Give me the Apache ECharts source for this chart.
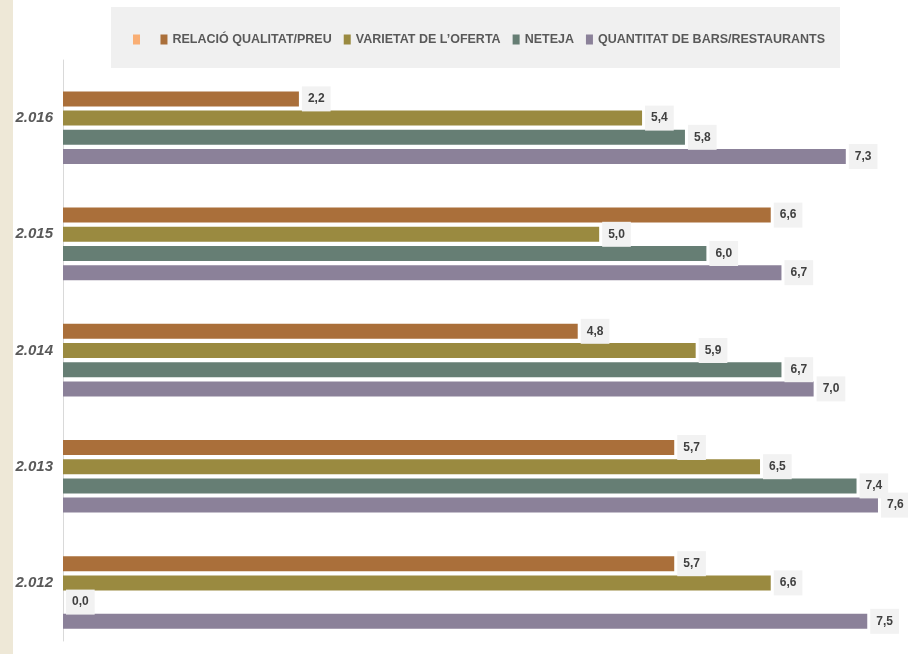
<!DOCTYPE html>
<html>
<head>
<meta charset="utf-8">
<script src="https://cdn.jsdelivr.net/npm/echarts@6/dist/echarts.min.js"></script>
<style>
  html, body { margin: 0; padding: 0; background: #ffffff; }
  #chart { width: 908px; height: 654px; }
</style>
</head>
<body>
<div id="chart"></div>
<script>
// Survey years (top to bottom)
const years = ['2.016', '2.015', '2.014', '2.013', '2.012'];

// Series names
const seriesNames = [' ', 'RELACIÓ QUALITAT/PREU', 'VARIETAT DE L\u2019OFERTA', 'NETEJA', 'QUANTITAT DE BARS/RESTAURANTS'];

// Scores per year (same order as years)
const blankValues     = [null, null, null, null, null];
const relacioValues   = [2.2, 6.6, 4.8, 5.7, 5.7];
const varietatValues  = [5.4, 5.0, 5.9, 6.5, 6.6];
const netejaValues    = [5.8, 6.0, 6.7, 7.4, 0.0];
const quantitatValues = [7.3, 6.7, 7.0, 7.6, 7.5];

const seriesColors = ['#F9AE74', '#AA6F3A', '#9A8A40', '#667E74', '#8B8199'];
const seriesValues = [blankValues, relacioValues, varietatValues, netejaValues, quantitatValues];

const FONT = '"Liberation Sans Narrow", "Arial Narrow", "Liberation Sans", Arial, sans-serif';

const chart = echarts.init(document.getElementById('chart'), null, { renderer: 'canvas' });

const series = seriesNames.map((name, i) => ({
  name: name,
  type: 'bar',
  data: seriesValues[i],
  barWidth: 15,
  barGap: '28%',
  itemStyle: { color: seriesColors[i] },
  label: {
    show: i > 0,
    position: 'right',
    distance: 3,
    formatter: p => p.value.toFixed(1).replace('.', ','),
    color: '#404040',
    fontFamily: FONT,
    fontWeight: 'bold',
    fontSize: 12,
    lineHeight: 13,
    backgroundColor: '#F2F2F2',
    padding: [6, 6]
  },
  emphasis: { disabled: true }
}));

chart.setOption({
  animation: false,
  backgroundColor: '#ffffff',
  graphic: [
    { type: 'rect', shape: { x: 0, y: 0, width: 13, height: 654 }, style: { fill: '#EEE8D7' }, z: -10 },
    { type: 'rect', shape: { x: 111, y: 7, width: 729, height: 61 }, style: { fill: '#F0F0F0' }, z: -10 }
  ],
  legend: {
    data: seriesNames,
    left: 128,
    top: 28,
    itemWidth: 7,
    itemHeight: 10,
    itemGap: 12,
    icon: 'rect',
    textStyle: {
      color: '#595959',
      fontFamily: FONT,
      fontWeight: 'bold',
      fontSize: 12.5
    }
  },
  grid: {
    left: 63,
    top: 60,
    right: 0,
    height: 581,
    containLabel: false
  },
  xAxis: {
    type: 'value',
    min: 0,
    max: 7.88,
    show: false
  },
  yAxis: {
    type: 'category',
    data: years,
    inverse: true,
    axisLine: { show: true, lineStyle: { color: '#D9D9D9', width: 1 } },
    axisTick: { show: false },
    axisLabel: {
      margin: 10,
      color: '#595959',
      fontFamily: FONT,
      fontStyle: 'italic',
      fontWeight: 'bold',
      fontSize: 15
    }
  },
  series: series
});
</script>
</body>
</html>
